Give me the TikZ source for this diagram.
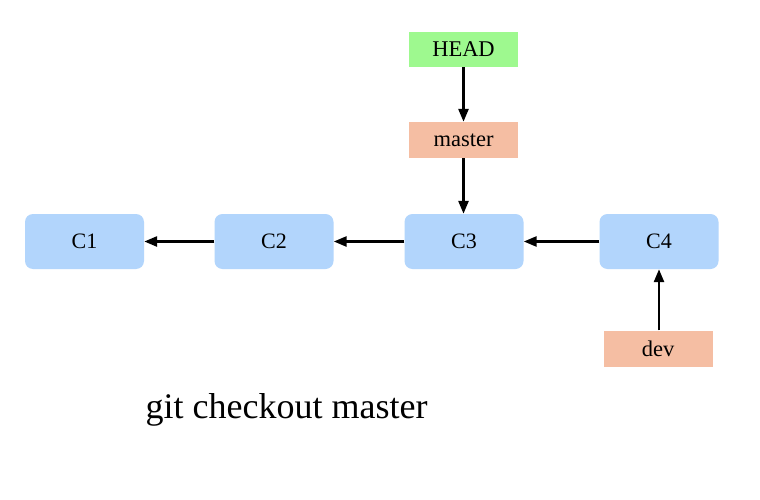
\documentclass[tikz,border=0pt]{standalone}
\usepackage{fontspec}
\setmainfont{Liberation Serif}
\usetikzlibrary{arrows.meta}
\definecolor{cblue}{HTML}{B2D5FC}
\definecolor{cgreen}{HTML}{9EF98F}
\definecolor{corange}{HTML}{F5BEA3}
\begin{document}
\begin{tikzpicture}[x=1pt,y=-1pt,
  commit/.style={fill=cblue,rounded corners=8pt,minimum width=119pt,minimum height=55pt,inner sep=0pt,font=\fontsize{22}{26}\selectfont},
  ref/.style={minimum width=109pt,minimum height=36pt,inner sep=0pt,font=\fontsize{22.5}{26}\selectfont},
  arr/.style={line width=2.6pt,-{Triangle[length=13pt,width=10pt]}}]
\useasboundingbox[fill=white] (0,0) rectangle (760,500);
\node[commit] (c1) at (84.5,241.5) {C1};
\node[commit] (c2) at (274,241.5) {C2};
\node[commit] (c3) at (464,241.5) {C3};
\node[commit] (c4) at (659,241.5) {C4};
\node[ref,fill=cgreen,minimum height=35pt] (head) at (463.5,49.5) {HEAD};
\node[ref,fill=corange] (master) at (463.5,140) {master};
\node[ref,fill=corange] (dev) at (658,348.5) {dev};
\node[font=\fontsize{36}{40}\selectfont,anchor=base] (cmd) at (286.5,418) {git checkout master};
\draw[arr] (c2.west) -- (c1.east);
\draw[arr] (c3.west) -- (c2.east);
\draw[arr] (c4.west) -- (c3.east);
\draw[arr] (head.south) -- (master.north);
\draw[arr] (master.south) -- (c3.north -| master.south);
\draw[arr] (dev.north -| c4.south) -- (c4.south);
\end{tikzpicture}
\end{document}
